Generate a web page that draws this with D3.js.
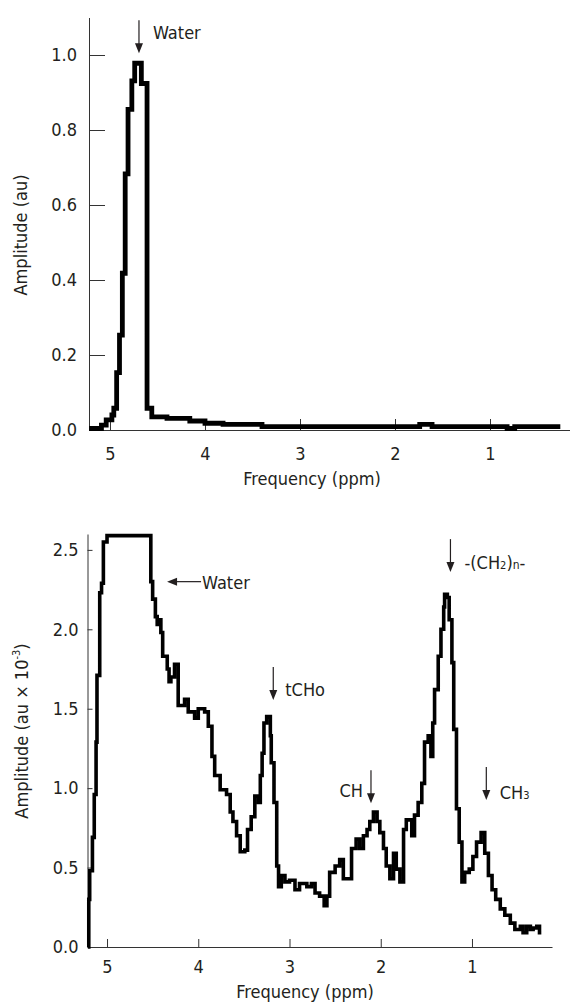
<!DOCTYPE html>
<html>
<head>
<meta charset="utf-8">
<script src="https://cdn.jsdelivr.net/npm/d3@7"></script>
<style>
  body { margin: 0; background: #fff; }
  svg text { font-family: "DejaVu Sans Condensed", "DejaVu Sans", sans-serif; fill: #231f20; }
</style>
</head>
<body>
<svg id="chart" width="570" height="1003"></svg>
<script>
// top spectrum (water peak), ppm / amplitude (au)
var topPpm = [5.22,5.09,5.04,4.98,4.96,4.93,4.90,4.87,4.84,4.81,4.77,4.74,4.67,4.61,4.56,4.40,4.16,4.00,3.81,3.40,1.74,1.61,0.82,0.74,0.26];
var topAmp = [0.004,0.013,0.027,0.040,0.058,0.153,0.253,0.418,0.683,0.855,0.931,0.978,0.924,0.058,0.035,0.031,0.024,0.018,0.015,0.009,0.015,0.009,0.004,0.009,0.009];

// bottom spectrum (zoomed), amplitude in au x 10^-3
var botPpm = [5.21,5.20,5.19,5.16,5.14,5.12,5.11,5.08,5.06,5.04,
  5.00,4.52,4.50,4.47,4.45,4.43,4.41,4.39,4.34,4.32,
  4.30,4.26,4.22,4.15,4.11,4.04,4.00,3.93,3.89,3.85,
  3.82,3.76,3.69,3.65,3.62,3.58,3.54,3.49,3.46,3.42,
  3.38,3.34,3.32,3.30,3.28,3.25,3.21,3.20,3.17,3.14,
  3.12,3.09,3.05,3.00,2.94,2.89,2.81,2.76,2.72,2.67,
  2.62,2.59,2.56,2.50,2.45,2.41,2.32,2.27,2.23,2.19,
  2.15,2.12,2.08,2.04,2.01,1.97,1.94,1.90,1.86,1.83,
  1.79,1.75,1.72,1.66,1.63,1.59,1.55,1.52,1.48,1.45,
  1.43,1.41,1.37,1.34,1.31,1.30,1.27,1.25,1.22,1.20,
  1.17,1.14,1.11,1.08,1.03,0.99,0.95,0.90,0.86,0.82,
  0.78,0.74,0.69,0.64,0.58,0.53,0.47,0.44,0.40,0.36,
  0.33,0.29,0.26,0.24];
var botAmp = [0.00,0.30,0.48,0.69,0.96,1.29,1.71,2.23,2.29,2.55,
  2.59,2.30,2.19,2.08,2.03,2.06,1.98,1.83,1.75,1.67,
  1.70,1.78,1.52,1.56,1.48,1.44,1.50,1.48,1.39,1.20,
  1.08,0.99,0.96,0.85,0.79,0.70,0.60,0.61,0.74,0.82,
  0.95,0.91,1.08,1.22,1.41,1.45,1.33,1.16,0.91,0.51,
  0.38,0.45,0.41,0.42,0.36,0.40,0.38,0.40,0.34,0.32,
  0.26,0.32,0.47,0.51,0.55,0.43,0.62,0.68,0.62,0.70,
  0.74,0.79,0.85,0.79,0.72,0.62,0.51,0.43,0.59,0.49,
  0.41,0.74,0.80,0.70,0.83,0.91,1.03,1.29,1.33,1.20,
  1.41,1.62,1.83,2.00,2.14,2.22,2.20,2.06,1.79,1.37,
  0.87,0.66,0.41,0.47,0.49,0.57,0.66,0.72,0.59,0.45,
  0.36,0.30,0.24,0.20,0.15,0.11,0.13,0.09,0.13,0.11,
  0.12,0.13,0.09,0.09];

var xTicks = [5, 4, 3, 2, 1];
var topYTicks = [0, 0.2, 0.4, 0.6, 0.8, 1.0];
var botYTicks = [0, 0.5, 1.0, 1.5, 2.0, 2.5];

var svg = d3.select("#chart");
var axisColor = "#333";

function drawPanel(o) {
  var g = svg.append("g");
  var x = d3.scaleLinear().domain(o.xDomain).range([o.left, o.right]);
  var y = d3.scaleLinear().domain(o.yDomain).range([o.bottom, o.top]);

  var xAxis = d3.axisBottom(x).tickValues(xTicks).tickFormat(d3.format("d"))
    .tickSizeInner(-o.xTick).tickSizeOuter(0).tickPadding(o.xPad);
  var yAxis = d3.axisLeft(y).tickValues(o.yTicks).tickFormat(d3.format(".1f"))
    .tickSizeInner(-o.yTick).tickSizeOuter(0).tickPadding(o.yPad);

  var gx = g.append("g").attr("transform", "translate(0," + o.bottom + ")").call(xAxis);
  var gy = g.append("g").attr("transform", "translate(" + o.left + ",0)").call(yAxis);
  [gx, gy].forEach(function(a) {
    a.selectAll("path, line").attr("stroke", axisColor).attr("stroke-width", 1);
    a.selectAll("text").attr("font-size", 18).attr("font-family", null).attr("fill", "#231f20");
  });

  var line = d3.line()
    .x(function(d) { return x(d[0]); })
    .y(function(d) { return y(d[1]); })
    .curve(d3.curveStepAfter);

  g.append("path")
    .datum(d3.zip(o.ppm, o.amp))
    .attr("d", line)
    .attr("fill", "none")
    .attr("stroke", "#000")
    .attr("stroke-width", o.lineW)
    .attr("stroke-linejoin", "miter");

  g.append("text")
    .attr("x", o.xTitleX).attr("y", o.xTitleY)
    .attr("text-anchor", "middle").attr("font-size", 18)
    .text("Frequency (ppm)");

  var yt = g.append("text")
    .attr("transform", "translate(" + o.yTitleX + "," + o.yTitleY + ") rotate(-90)")
    .attr("text-anchor", "middle").attr("font-size", 18);
  o.yTitle(yt);

  return { g: g, x: x, y: y };
}

function arrowDown(g, x, yTip, len) {
  g.append("line").attr("x1", x).attr("x2", x).attr("y1", yTip - len).attr("y2", yTip - 8)
    .attr("stroke", "#231f20").attr("stroke-width", 1.2);
  g.append("path").attr("d", "M" + (x - 4) + "," + (yTip - 10) + "L" + (x + 4) + "," + (yTip - 10) + "L" + x + "," + yTip + "Z")
    .attr("fill", "#231f20");
}
function arrowLeft(g, xTip, y, len) {
  g.append("line").attr("x1", xTip + 8).attr("x2", xTip + len).attr("y1", y).attr("y2", y)
    .attr("stroke", "#231f20").attr("stroke-width", 1.2);
  g.append("path").attr("d", "M" + (xTip + 10) + "," + (y - 4) + "L" + (xTip + 10) + "," + (y + 4) + "L" + xTip + "," + y + "Z")
    .attr("fill", "#231f20");
}
function label(g, x, y, parts, anchor) {
  var t = g.append("text").attr("x", x).attr("y", y).attr("font-size", 18)
    .attr("text-anchor", anchor || "start");
  parts.forEach(function(p) {
    var s = t.append("tspan").text(p[0]);
    if (p[1]) s.attr("font-size", p[1]);
  });
  return t;
}

// ---- top panel ----
var topPanel = drawPanel({
  ppm: topPpm, amp: topAmp,
  xDomain: [5.221, 0.158], left: 89, right: 570,
  yDomain: [0, 1.1], bottom: 430, top: 17.5,
  yTicks: topYTicks, xTick: 11, yTick: 16, xPad: 17, yPad: 12,
  lineW: 4.8,
  xTitleX: 312, xTitleY: 485,
  yTitleX: 27, yTitleY: 235,
  yTitle: function(t) { t.text("Amplitude (au)"); }
});
arrowDown(topPanel.g, topPanel.x(4.695), topPanel.y(1.005), 33);
label(topPanel.g, 153, 39, [["Water"]]);

// ---- bottom panel ----
var botPanel = drawPanel({
  ppm: botPpm, amp: botAmp,
  xDomain: [5.214, 0.123], left: 87.5, right: 552,
  yDomain: [0, 2.6], bottom: 947, top: 534,
  yTicks: botYTicks, xTick: 8, yTick: 5, xPad: 13, yPad: 9,
  lineW: 3.6,
  xTitleX: 305, xTitleY: 998,
  yTitleX: 28, yTitleY: 731,
  yTitle: function(t) {
    t.append("tspan").text("Amplitude (au \u00d7 10");
    t.append("tspan").attr("font-size", 11).attr("dy", -8).text("-3");
    t.append("tspan").attr("dy", 8).text(")");
  }
});
var bg = botPanel.g, bx = botPanel.x, by = botPanel.y;
arrowLeft(bg, bx(4.342), by(2.30), 34);
label(bg, bx(4.342) + 35, by(2.30) + 7, [["Water"]]);

arrowDown(bg, bx(3.178), by(1.555), 33);
label(bg, bx(3.178) + 12, by(1.555) - 4, [["tCHo"]]);

arrowDown(bg, bx(2.107), by(0.905), 33);
label(bg, bx(2.107) - 8, by(0.905) - 6.5, [["CH"]], "end");

arrowDown(bg, bx(1.236), by(2.36), 33);
label(bg, bx(1.236) + 14, by(2.36) - 3.5, [["-(CH"], ["2", 11], [")"], ["n", 12], ["-"]]);

arrowDown(bg, bx(0.843), by(0.926), 33);
label(bg, bx(0.843) + 13.5, by(0.926) - 1, [["CH"], ["3", 11]]);
</script>
</body>
</html>
